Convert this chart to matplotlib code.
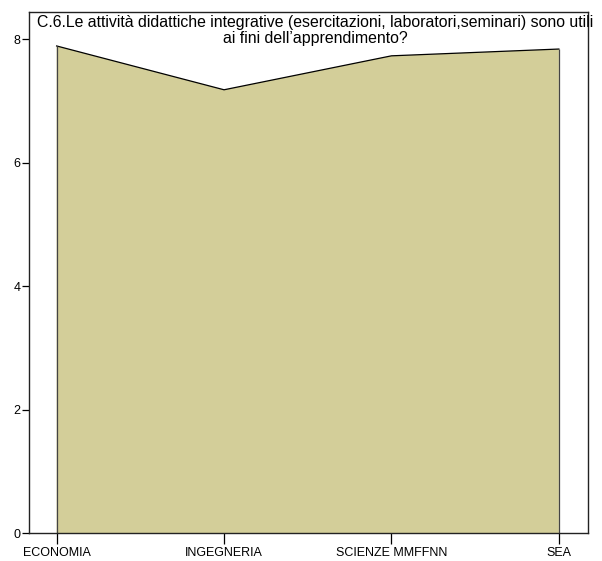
import matplotlib.pyplot as plt
import numpy as np

plt.rcParams['font.family'] = ['Liberation Sans', 'DejaVu Sans']

categories = ['ECONOMIA', 'INGEGNERIA', 'SCIENZE MMFFNN', 'SEA']
values = [7.89, 7.18, 7.73, 7.84]
yticks = [0, 2, 4, 6, 8]
title = ("C.6.Le attività didattiche integrative (esercitazioni, laboratori,seminari) sono utili\n"
         "ai fini dell\u2019apprendimento?")

fig = plt.figure(figsize=(6.02, 5.61), dpi=100)
ax = fig.add_axes([29 / 602, 1 - 533 / 561, (588 - 29) / 602, (533 - 12) / 561])

x = np.arange(len(categories))
ax.fill_between(x, 0, values, facecolor='#d3ce99', edgecolor='none')
ax.plot(x, values, color='black', linewidth=0.9)
ax.vlines([x[0], x[-1]], 0, [values[0], values[-1]], color='#444444', linewidth=0.9)

ax.set_xlim(-0.165, 3.174)
ax.set_ylim(0, 8.44)
ax.set_xticks(x)
ax.set_xticklabels(categories, fontsize=9)
ax.set_yticks(yticks)
ax.set_yticklabels([str(v) for v in yticks], fontsize=9)
ax.tick_params(axis='x', direction='out', length=8, width=0.9, pad=2)
ax.tick_params(axis='y', direction='out', length=5, width=0.9, pad=1)

for s in ax.spines.values():
    s.set_linewidth(1.0)
    s.set_color('#222222')

ax.text(0.512, 0.995, title, transform=ax.transAxes, ha='center', va='top',
        fontsize=11.45, linespacing=1.15, clip_on=False)

fig.savefig('out.png', dpi=100)
